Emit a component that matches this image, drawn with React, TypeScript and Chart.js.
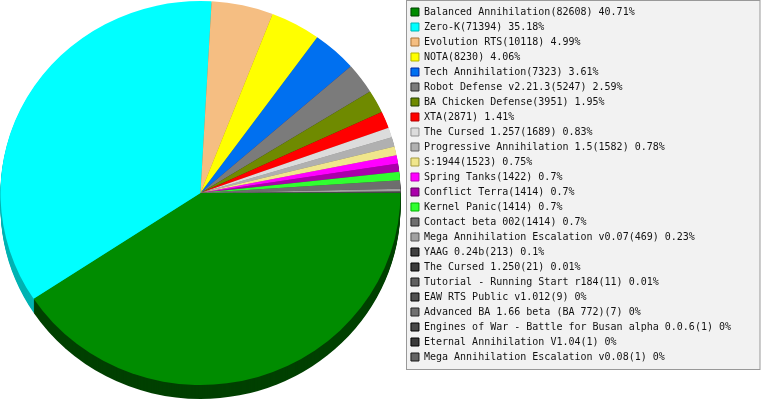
import { useEffect, useRef } from "react";
import { Chart, registerables } from "chart.js";
import type { Plugin } from "chart.js";

Chart.register(...registerables);

// games and their player counts, in the order of the legend
const GAMES = [
  "Balanced Annihilation",
  "Zero-K",
  "Evolution RTS",
  "NOTA",
  "Tech Annihilation",
  "Robot Defense v2.21.3",
  "BA Chicken Defense",
  "XTA",
  "The Cursed 1.257",
  "Progressive Annihilation 1.5",
  "S:1944",
  "Spring Tanks",
  "Conflict Terra",
  "Kernel Panic",
  "Contact beta 002",
  "Mega Annihilation Escalation v0.07",
  "YAAG 0.24b",
  "The Cursed 1.250",
  "Tutorial - Running Start r184",
  "EAW RTS Public v1.012",
  "Advanced BA 1.66 beta (BA 772)",
  "Engines of War - Battle for Busan alpha 0.0.6",
  "Eternal Annihilation V1.04",
  "Mega Annihilation Escalation v0.08",
];

const PLAYER_COUNTS = [
  82608, 71394, 10118, 8230, 7323, 5247, 3951, 2871, 1689, 1582, 1523, 1422,
  1414, 1414, 1414, 469, 213, 21, 11, 9, 7, 1, 1, 1,
];

const SLICE_COLORS = [
  "#008c00", "#00ffff", "#f5be82", "#ffff00", "#0070f0", "#7b7b7b",
  "#6f8a00", "#ff0000", "#dcdcdc", "#b0b0b0", "#f0e68c", "#ff00ff",
  "#aa00aa", "#30ff30", "#6e6e6e", "#a0a0a0", "#404040", "#3c3c3c",
  "#606060", "#505050", "#707070", "#484848", "#3a3a3a", "#646464",
];

const TOTAL = PLAYER_COUNTS.reduce((a, b) => a + b, 0);

const SIDE_DEPTH = 14;
const SIDE_SHADE = 76;
const WIDTH_RATIO = 200 / 192;

function shade(hex: string, amount: number) {
  const n = parseInt(hex.slice(1), 16);
  const r = Math.max(0, ((n >> 16) & 255) - amount);
  const g = Math.max(0, ((n >> 8) & 255) - amount);
  const b = Math.max(0, (n & 255) - amount);
  return `rgb(${r},${g},${b})`;
}

function legendText(i: number) {
  const pct = (PLAYER_COUNTS[i] / TOTAL) * 100;
  return `${GAMES[i]}(${PLAYER_COUNTS[i]}) ${parseFloat(pct.toFixed(2))}%`;
}

// grey legend panel + squashed pie with a dark side wall
const pie3d: Plugin<"pie"> = {
  id: "pie-3d",
  beforeDraw(chart) {
    const legend = chart.legend as any;
    if (!legend || !legend.legendHitBoxes?.length) return;
    const { ctx } = chart;
    const boxes = legend.legendHitBoxes;
    const last = boxes[boxes.length - 1];
    const x = Math.round(legend.left) + 0.5;
    const bottom = Math.round(last.top + last.height) + 7.5;
    ctx.save();
    ctx.fillStyle = "#f2f2f2";
    ctx.strokeStyle = "#999999";
    ctx.lineWidth = 1;
    ctx.fillRect(x, 0.5, chart.width - 1 - x, bottom - 0.5);
    ctx.strokeRect(x, 0.5, chart.width - 1 - x, bottom - 0.5);
    ctx.restore();
  },
  beforeDatasetsDraw(chart) {
    const { ctx } = chart;
    const meta = chart.getDatasetMeta(0);
    const first = meta.data[0] as any;
    ctx.save();
    if (!first) return;
    const cx = first.x;
    const cy = first.y;
    // centre the pie in the space left of the legend panel
    const targetX = ((chart.legend?.left ?? cx * 2) - 5) / 2;
    ctx.translate(targetX, cy - 1);
    ctx.scale(WIDTH_RATIO, 1);
    ctx.translate(-cx, -cy);
    for (let d = SIDE_DEPTH; d >= 1; d--) {
      meta.data.forEach((el: any, i) => {
        ctx.beginPath();
        ctx.moveTo(el.x, el.y + d);
        ctx.arc(el.x, el.y + d, el.outerRadius, el.startAngle, el.endAngle);
        ctx.closePath();
        ctx.fillStyle = shade(SLICE_COLORS[i], SIDE_SHADE);
        ctx.fill();
      });
    }
  },
  afterDatasetsDraw(chart) {
    chart.ctx.restore();
  },
};

export default function App() {
  const ref = useRef<HTMLCanvasElement>(null);

  useEffect(() => {
    if (!ref.current) return;
    const chart = new Chart(ref.current, {
      type: "pie",
      plugins: [pie3d],
      data: {
        labels: GAMES,
        datasets: [
          {
            data: PLAYER_COUNTS,
            backgroundColor: SLICE_COLORS,
            borderWidth: 0,
            hoverOffset: 0,
            clip: false as any,
          },
        ],
      },
      options: {
        animation: false,
        responsive: true,
        maintainAspectRatio: false,
        events: [],
        rotation: 90,
        layout: { padding: { left: 0, top: 2, right: 20, bottom: 14 } },
        plugins: {
          tooltip: { enabled: false },
          legend: {
            position: "right",
            align: "start",
            labels: {
              font: { family: "'DejaVu Sans Mono', monospace", size: 10 },
              color: "#111111",
              boxWidth: 8,
              boxHeight: 8,
              padding: 5,
              generateLabels: () =>
                GAMES.map((_, i) => ({
                  text: legendText(i),
                  fillStyle: SLICE_COLORS[i],
                  strokeStyle: shade(SLICE_COLORS[i], SIDE_SHADE),
                  lineWidth: 1,
                  fontColor: "#111111",
                  hidden: false,
                  index: i,
                })),
            },
          },
        },
      },
    });
    return () => chart.destroy();
  }, []);

  return (
    <div style={{ position: "fixed", left: 0, top: 0, width: 761, height: 400 }}>
      <canvas ref={ref} />
    </div>
  );
}
